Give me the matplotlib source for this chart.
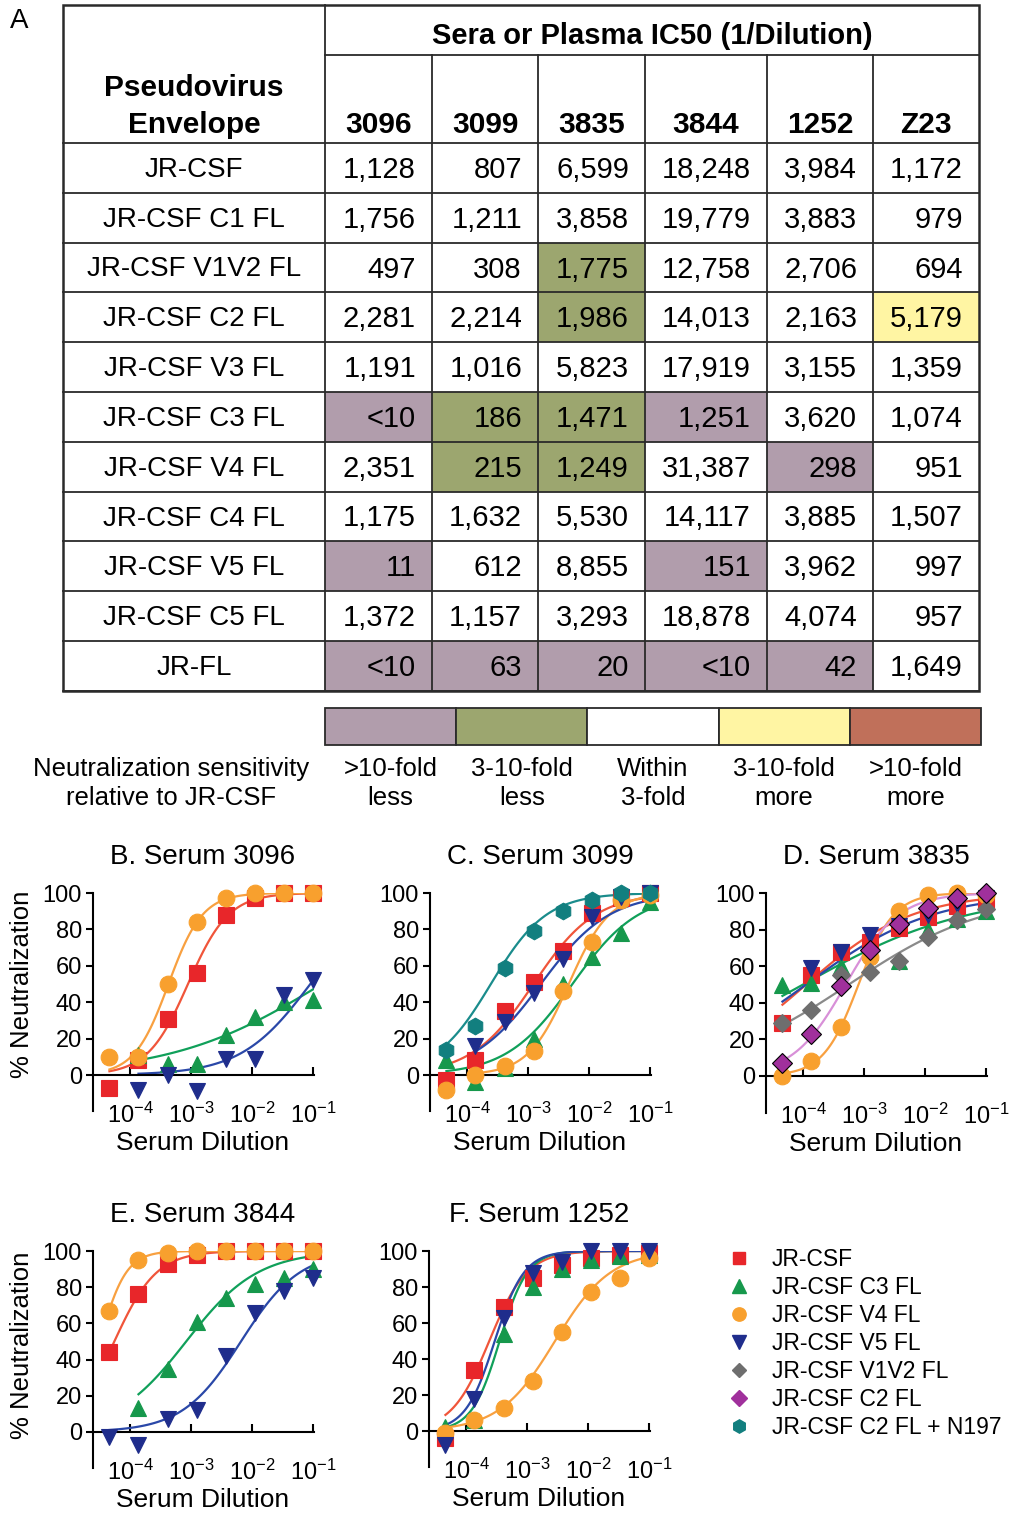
import matplotlib.pyplot as plt
import numpy as np
from matplotlib.patches import Rectangle
from matplotlib.lines import Line2D

plt.rcParams['font.family'] = ['Liberation Sans', 'DejaVu Sans']
plt.rcParams['mathtext.default'] = 'regular'

W = 1011
H = 1514

# ---------------- panel A : IC50 table ----------------
envelopes = ["JR-CSF", "JR-CSF C1 FL", "JR-CSF V1V2 FL", "JR-CSF C2 FL",
             "JR-CSF V3 FL", "JR-CSF C3 FL", "JR-CSF V4 FL", "JR-CSF C4 FL",
             "JR-CSF V5 FL", "JR-CSF C5 FL", "JR-FL"]
sera = ["3096", "3099", "3835", "3844", "1252", "Z23"]
ic50 = [
    ["1,128", "807", "6,599", "18,248", "3,984", "1,172"],
    ["1,756", "1,211", "3,858", "19,779", "3,883", "979"],
    ["497", "308", "1,775", "12,758", "2,706", "694"],
    ["2,281", "2,214", "1,986", "14,013", "2,163", "5,179"],
    ["1,191", "1,016", "5,823", "17,919", "3,155", "1,359"],
    ["<10", "186", "1,471", "1,251", "3,620", "1,074"],
    ["2,351", "215", "1,249", "31,387", "298", "951"],
    ["1,175", "1,632", "5,530", "14,117", "3,885", "1,507"],
    ["11", "612", "8,855", "151", "3,962", "997"],
    ["1,372", "1,157", "3,293", "18,878", "4,074", "957"],
    ["<10", "63", "20", "<10", "42", "1,649"],
]
sens_top = [">10-fold", "3-10-fold", "Within", "3-10-fold", ">10-fold"]
sens_bottom = ["less", "less", "3-fold", "more", "more"]
sens_colors = ["#b19dac", "#9ca66f", "#ffffff", "#fff5a3", "#c0705a"]

# ---------------- panels B-F : neutralization curves ----------------
dilution = [1/21870, 1/7290, 1/2430, 1/810, 1/270, 1/90, 1/30, 1/10]

# % neutralization (None = not shown)
b_jrcsf = [-7, 8, 31, 56, 88, 97, 100, 100]
b_c3 = [None, 11, 6, 6, 22, 32, 40, 41]
b_v4 = [10, 10, 50, 84, 97, 100, 100, 100]
b_v5 = [None, -8, 0, -9, 9, 9, 44, 52]

c_jrcsf = [-3, 8, 35, 51, 68, 89, 97, 100]
c_c3 = [8, -4, 4, 20, 50, 65, 78, 95]
c_v4 = [-8, 0, 5, 13, 46, 73, 96, 99]
c_v5 = [None, 16, 29, 45, 64, 87, 98, 100]
c_n197 = [14, 27, 59, 79, 90, 96, 100, 100]

d_jrcsf = [29, 55, 68, 73, 81, 87, 93, 95]
d_c3 = [50, 51, 60, 68, 63, 80, 86, 90]
d_v4 = [0, 8, 27, 65, 90, 99, 100, 99]
d_v5 = [None, 59, 68, 77, 82, 88, 94, 97]
d_v1v2 = [29, 36, 55, 57, 63, 76, 85, 91]
d_c2 = [7, 23, 49, 69, 83, 92, 97, 100]

e_jrcsf = [44, 76, 93, 98, 100, 100, 100, 100]
e_c3 = [None, 13, 35, 61, 74, 82, 85, 90]
e_v4 = [67, 95, 99, 100, 100, 100, 100, 100]
e_v5 = [-3, -7, 7, 12, 42, 66, 78, 85]

f_jrcsf = [-4, 34, 69, 85, 92, 96, 98, 99]
f_c3 = [2, 6, 54, 80, 90, 95, 97, 98]
f_v4 = [-1, 6, 13, 28, 55, 77, 85, 96]
f_v5 = [-8, 18, 63, 88, 94, 100, 100, 100]

# fitted curves: (log10 IC50, hill slope, first point of fit)
b_fit = [(-3.05, 1.3, 0), (-0.85, 0.35, 1), (-3.37, 1.55, 0), (-1.04, 0.76, 1)]
c_fit = [(-2.91, 0.85, 0), (-2.27, 0.8, 0), (-2.33, 1.3, 1), (-2.79, 0.77, 1), (-3.61, 0.95, 0)]
d_fit = [(-3.95, 0.5, 0), (-4.0, 0.32, 0), (-3.09, 1.5, 0), (-3.95, 0.42, 0), (-3.25, 0.38, 0), (-3.30, 1.0, 0)]
e_fit = [(-4.26, 1.25, 0), (-3.08, 0.74, 1), (-4.5, 2.0, 0), (-2.18, 0.9, 0)]
f_fit = [(-3.62, 1.4, 0), (-3.45, 1.9, 0), (-2.54, 0.95, 0), (-3.53, 1.8, 0)]

# marker, marker colour, line colour, marker size
style = {
    "JR-CSF": ("s", "#e8262a", "#f0553a", 11),
    "JR-CSF C3 FL": ("^", "#16984c", "#10a05a", 12),
    "JR-CSF V4 FL": ("o", "#f8a02e", "#f8a040", 12),
    "JR-CSF V5 FL": ("v", "#1f2d8c", "#2a48a8", 12),
    "JR-CSF V1V2 FL": ("D", "#6e6e6e", "#8a8a8a", 9.5),
    "JR-CSF C2 FL": ("D", "#a0309c", "#d890d8", 10),
    "JR-CSF C2 FL + N197": ("h", "#127f7f", "#1a8c8c", 12),
}

fig = plt.figure(figsize=(W/100, H/100), dpi=100)
tab = fig.add_axes([0, 0, 1, 1])
tab.set_xlim(0, W)
tab.set_ylim(H, 0)
tab.axis('off')


def to_num(s):
    return float(s.replace(',', '').replace('<', ''))


def category(v, ref):
    fold = ref / v
    if fold > 10:
        return 0
    if fold >= 3:
        return 1
    if fold > 1/3:
        return 2
    if fold > 1/10:
        return 3
    return 4


col_x = [325, 432, 538, 645, 767, 873, 979]
row_y = [143 + 49.8*i for i in range(12)]

for i, env in enumerate(envelopes):
    yc = (row_y[i] + row_y[i+1]) / 2 + 2
    tab.text(194, yc, env, ha='center', va='center', fontsize=20)
    for j, s in enumerate(ic50[i]):
        cat = category(to_num(s), to_num(ic50[0][j]))
        if cat != 2:
            tab.add_patch(Rectangle((col_x[j], row_y[i]), col_x[j+1]-col_x[j],
                                    row_y[i+1]-row_y[i], color=sens_colors[cat], lw=0))
        tab.text(col_x[j+1]-16, yc, s, ha='right', va='center', fontsize=21)

for j, s in enumerate(sera):
    tab.text((col_x[j] + col_x[j+1]) / 2, 125, s, ha='center', va='center',
             fontsize=21.5, fontweight='bold')
tab.text(652, 36, "Sera or Plasma IC50 (1/Dilution)", ha='center', va='center',
         fontsize=21, fontweight='bold')
tab.text(194, 88, "Pseudovirus", ha='center', va='center', fontsize=21.5, fontweight='bold')
tab.text(194, 125, "Envelope", ha='center', va='center', fontsize=21.5, fontweight='bold')
tab.text(10, 21, "A", ha='left', va='center', fontsize=20)

lc = '#2a2a2a'
for y in row_y:
    tab.plot([63, 979], [y, y], color=lc, lw=1.3)
tab.plot([325, 979], [55, 55], color=lc, lw=1.3)
for x in col_x[1:-1]:
    tab.plot([x, x], [55, row_y[-1]], color=lc, lw=1.3)
tab.add_patch(Rectangle((63, 5), 979-63, row_y[-1]-5, fill=False, ec=lc, lw=1.8))
tab.plot([325, 325], [5, row_y[-1]], color=lc, lw=1.3)

# sensitivity colour key
kx0 = 325
kw = (981 - 325) / 5
for k in range(5):
    tab.add_patch(Rectangle((kx0 + k*kw, 708), kw, 37, fc=sens_colors[k], ec=lc, lw=1.3))
    tab.text(kx0 + (k+0.5)*kw, 769, sens_top[k], ha='center', va='center', fontsize=18.5)
    tab.text(kx0 + (k+0.5)*kw, 798, sens_bottom[k], ha='center', va='center', fontsize=18.5)
tab.text(171, 769, "Neutralization sensitivity", ha='center', va='center', fontsize=18.5)
tab.text(171, 798, "relative to JR-CSF", ha='center', va='center', fontsize=18.5)


def hill(x, logc, h):
    return 100 / (1 + (10**logc / x)**h)


panels = [
    ("B. Serum 3096", 93, 893, 1075,
     [("JR-CSF", b_jrcsf), ("JR-CSF C3 FL", b_c3), ("JR-CSF V4 FL", b_v4), ("JR-CSF V5 FL", b_v5)], b_fit),
    ("C. Serum 3099", 430, 893, 1075,
     [("JR-CSF", c_jrcsf), ("JR-CSF C3 FL", c_c3), ("JR-CSF V4 FL", c_v4), ("JR-CSF V5 FL", c_v5),
      ("JR-CSF C2 FL + N197", c_n197)], c_fit),
    ("D. Serum 3835", 766, 893, 1076,
     [("JR-CSF", d_jrcsf), ("JR-CSF C3 FL", d_c3), ("JR-CSF V4 FL", d_v4), ("JR-CSF V5 FL", d_v5),
      ("JR-CSF V1V2 FL", d_v1v2), ("JR-CSF C2 FL", d_c2)], d_fit),
    ("E. Serum 3844", 93, 1251, 1432,
     [("JR-CSF", e_jrcsf), ("JR-CSF C3 FL", e_c3), ("JR-CSF V4 FL", e_v4), ("JR-CSF V5 FL", e_v5)], e_fit),
    ("F. Serum 1252", 429, 1251, 1431,
     [("JR-CSF", f_jrcsf), ("JR-CSF C3 FL", f_c3), ("JR-CSF V4 FL", f_v4), ("JR-CSF V5 FL", f_v5)], f_fit),
]

for title, left, top, zero, series, fits in panels:
    unit = (zero - top) / 100
    bottom = zero + 20*unit
    width = 221
    ax = fig.add_axes([left/W, 1 - bottom/H, width/W, (bottom - top)/H])
    ax.patch.set_alpha(0)
    for (name, vals), (logc, h, start) in zip(series, fits):
        m, mc, lcol, ms = style[name]
        xs = np.logspace(np.log10(dilution[start]), np.log10(dilution[-1]), 120)
        ax.plot(xs, hill(xs, logc, h), color=lcol, lw=1.6, zorder=2)
    for name, vals in series:
        m, mc, lcol, ms = style[name]
        ec = 'black' if name == "JR-CSF C2 FL" else mc
        ax.plot(dilution, np.array(vals, dtype=float), ls='none', marker=m, ms=ms,
                mfc=mc, mec=ec, mew=0.8, zorder=3, clip_on=False)
    ax.set_xscale('log')
    ax.set_xlim(10**-4.61, 10**-0.98)
    ax.set_ylim(-20, 100)
    ax.spines['top'].set_visible(False)
    ax.spines['right'].set_visible(False)
    ax.spines['bottom'].set_position(('data', 0))
    ax.spines['bottom'].set_linewidth(1.5)
    ax.spines['left'].set_linewidth(1.5)
    ax.set_yticks([0, 20, 40, 60, 80, 100])
    ax.set_xticks([1e-4, 1e-3, 1e-2, 1e-1])
    ax.set_xticklabels([r'$10^{-4}$', r'$10^{-3}$', r'$10^{-2}$', r'$10^{-1}$'])
    ax.minorticks_off()
    ax.tick_params(axis='y', direction='out', length=5, width=1.5, pad=3, labelsize=17)
    ax.tick_params(axis='x', direction='in', length=6, width=1.5, pad=20, labelsize=17)
    xc = left + 110
    tab.text(xc, top - 36, title, ha='center', va='center', fontsize=20)
    tab.text(xc, zero + 68, "Serum Dilution", ha='center', va='center', fontsize=19)

tab.text(22, 984, "% Neutralization", ha='center', va='center', rotation=90, fontsize=18.5)
tab.text(22, 1345, "% Neutralization", ha='center', va='center', rotation=90, fontsize=18.5)

handles = []
for name in style:
    m, mc, lcol, ms = style[name]
    handles.append(Line2D([], [], ls='none', marker=m, ms=ms*0.8, mfc=mc, mec=mc))
fig.legend(handles, list(style.keys()), loc='upper left',
           bbox_to_anchor=(728/W, 1 - 1248/H), frameon=False, fontsize=16.5,
           handlelength=1.0, handletextpad=0.9, labelspacing=0.22, borderpad=0,
           borderaxespad=0)

fig.savefig("out.png", dpi=100)
